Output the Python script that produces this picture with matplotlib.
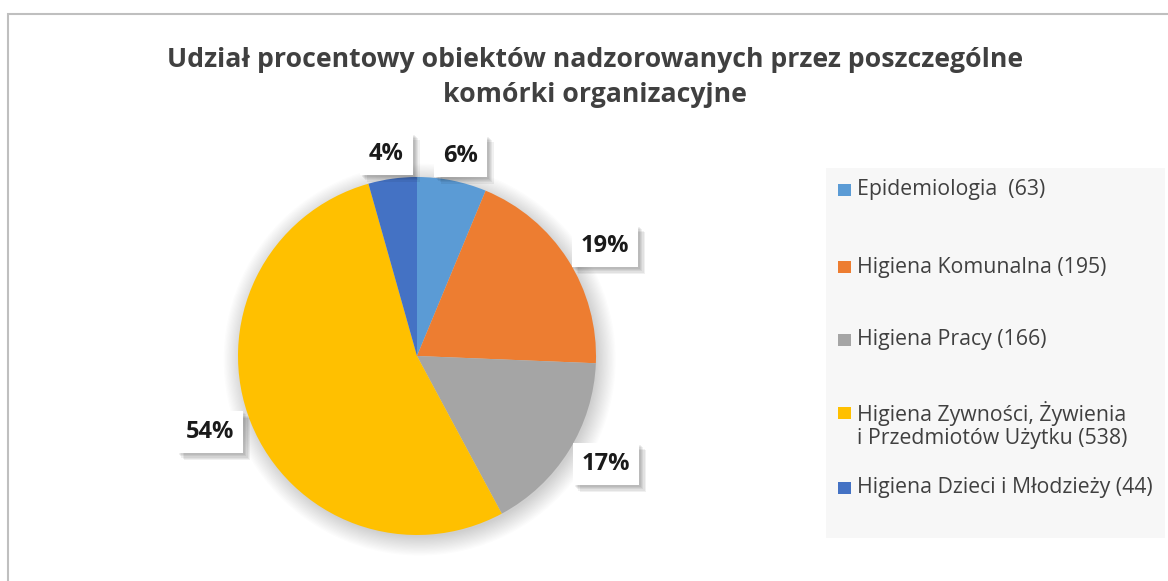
import numpy as np
import matplotlib
matplotlib.use("Agg")
import matplotlib.pyplot as plt
import matplotlib.patches as mpatches
import matplotlib.patheffects as pe

categories = ["Epidemiologia ", "Higiena Komunalna", "Higiena Pracy",
              "Higiena Zywności, Żywienia\ni Przedmiotów Użytku", "Higiena Dzieci i Młodzieży"]
counts = [63, 195, 166, 538, 44]
pct_labels = ["6%", "19%", "17%", "54%", "4%"]
colors = ["#5B9BD5", "#ED7D31", "#A5A5A5", "#FFC000", "#4472C4"]
title = "Udział procentowy obiektów nadzorowanych przez poszczególne\nkomórki organizacyjne"

W, H = 1168, 581
fig = plt.figure(figsize=(W / 100, H / 100), dpi=100)
fig.patch.set_facecolor("white")

def fx(px): return px / W
def fy(py): return 1 - py / H

# outer border
fig.add_artist(mpatches.Rectangle((fx(8), fy(590)), fx(1180) - fx(8), fy(14) - fy(590),
                                  transform=fig.transFigure, fill=False,
                                  ec="#BFBFBF", lw=1.5))

fig.text(fx(595), fy(77.5), title, ha="center", va="center", fontsize=19.2,
         fontweight="bold", color="#404040", family="Open Sans", linespacing=1.48)

# pie axes
cx, cy, R = 417, 356, 179
ax = fig.add_axes([fx(cx - R), fy(cy + R), 2 * R / W, 2 * R / H])

wedges, _ = ax.pie(counts, colors=colors, startangle=90, counterclock=False,
                   radius=1.0, wedgeprops=dict(lw=0))
ax.set_xlim(-1, 1); ax.set_ylim(-1, 1); ax.set_aspect("equal"); ax.axis("off")
for w_ in wedges:
    w_.set_zorder(2)

# soft shadow
for i in range(16):
    ax.add_patch(mpatches.Circle((0.015, -0.02), 0.99 + 0.007 * i, color="black",
                                 alpha=0.012, lw=0, zorder=0, clip_on=False))

total = sum(counts)
cum = 0
for v, lab in zip(counts, pct_labels):
    mid = 90 - (cum + v / 2) / total * 360
    cum += v
    a = np.deg2rad(mid)
    bw, bh = 60, 40
    dx = (R + 14) * np.cos(a) + bw / 2 * np.cos(a)
    dy = (R + 5) * np.sin(a) + bh / 2 * np.sin(a)
    t = ax.text(dx / R, dy / R, lab, ha="center", va="center", fontsize=17,
                fontweight="bold", color="#1a1a1a", family="Open Sans", zorder=5,
                clip_on=False,
                bbox=dict(boxstyle="square,pad=0.38", fc="white", ec="none"))
    effects = [pe.SimplePatchShadow(offset=(1.2 + 0.9 * k, -1.2 - 0.9 * k),
                                    shadow_rgbFace="#000000", alpha=0.06)
               for k in range(5)]
    t.get_bbox_patch().set_path_effects(effects + [pe.Normal()])

# legend box
fig.add_artist(mpatches.Rectangle((fx(826), fy(538)), fx(1165) - fx(826), fy(168) - fy(538),
                                  transform=fig.transFigure, fc="#F7F7F7", ec="none"))
row_y = [190, 267, 340, 425, 488]
for cat, n, col, y in zip(categories, counts, colors, row_y):
    lab = f"{cat} ({n})"
    nlines = lab.count("\n") + 1
    top_line_y = y - (nlines - 1) * 12.5
    fig.add_artist(mpatches.Rectangle((fx(838), fy(top_line_y + 6)), 13 / W, 12 / H,
                                      transform=fig.transFigure, fc=col, ec="none"))
    fig.text(fx(857), fy(y), lab, ha="left", va="center", fontsize=15.3,
             color="#404040", family="Open Sans", linespacing=1.1)

fig.savefig("out.png", dpi=100)
